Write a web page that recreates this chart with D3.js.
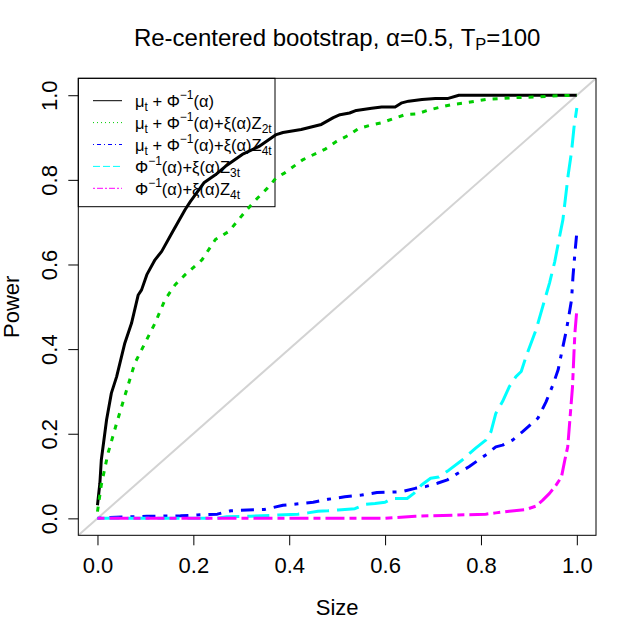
<!DOCTYPE html>
<html>
<head>
<meta charset="utf-8">
<script src="https://cdn.jsdelivr.net/npm/d3@7"></script>
<style>
  body { margin: 0; background: #fff; }
  svg { font-family: "Liberation Sans", Arial, sans-serif; }
</style>
</head>
<body>
<svg id="chart" width="636" height="633"></svg>
<script>
// values (size, power)
const sizeMu = [0, 0.005, 0.008, 0.019, 0.029, 0.04, 0.057, 0.071, 0.085, 0.092, 0.103, 0.12, 0.134, 0.155, 0.183, 0.194, 0.222, 0.246, 0.267, 0.302, 0.337, 0.373, 0.387, 0.425, 0.467, 0.492, 0.506, 0.526, 0.54, 0.572, 0.593, 0.621, 0.635, 0.649, 0.677, 0.705, 0.73, 0.754, 1.0]
const powerMu = [0.031, 0.083, 0.138, 0.233, 0.296, 0.335, 0.414, 0.461, 0.528, 0.54, 0.576, 0.611, 0.631, 0.674, 0.73, 0.749, 0.793, 0.812, 0.832, 0.86, 0.879, 0.907, 0.912, 0.919, 0.931, 0.947, 0.954, 0.958, 0.964, 0.969, 0.972, 0.972, 0.982, 0.986, 0.99, 0.992, 0.992, 1.0, 1.0]

const sizeMuZ2 = [0, 0.008, 0.022, 0.04, 0.061, 0.078, 0.099, 0.12, 0.141, 0.162, 0.183, 0.218, 0.246, 0.274, 0.309, 0.334, 0.355, 0.373, 0.39, 0.429, 0.474, 0.499, 0.523, 0.544, 0.569, 0.593, 0.618, 0.642, 0.667, 0.691, 0.716, 0.74, 0.768, 0.81, 0.866, 0.915, 0.964, 1.0]
const powerMuZ2 = [0.016, 0.079, 0.154, 0.225, 0.304, 0.367, 0.414, 0.461, 0.517, 0.552, 0.576, 0.611, 0.659, 0.678, 0.726, 0.757, 0.781, 0.805, 0.816, 0.848, 0.872, 0.891, 0.905, 0.921, 0.929, 0.935, 0.945, 0.954, 0.956, 0.965, 0.972, 0.978, 0.982, 0.99, 0.994, 0.996, 0.999, 1.0]

const sizeMuZ4 = [0, 0.026, 0.103, 0.173, 0.208, 0.25, 0.278, 0.313, 0.348, 0.387, 0.415, 0.45, 0.481, 0.516, 0.551, 0.583, 0.635, 0.663, 0.684, 0.709, 0.73, 0.751, 0.775, 0.81, 0.831, 0.845, 0.866, 0.887, 0.919, 0.936, 0.95, 0.961, 0.968, 0.977, 0.982, 0.989, 0.992, 0.996, 1.0]
const powerMuZ4 = [0, 0.002, 0.005, 0.006, 0.008, 0.01, 0.018, 0.02, 0.021, 0.031, 0.034, 0.038, 0.045, 0.051, 0.055, 0.061, 0.063, 0.071, 0.075, 0.083, 0.091, 0.106, 0.122, 0.15, 0.169, 0.173, 0.185, 0.205, 0.237, 0.276, 0.315, 0.351, 0.39, 0.438, 0.469, 0.517, 0.572, 0.627, 0.676]

const sizeZ3 = [0, 0.25, 0.27, 0.32, 0.376, 0.418, 0.439, 0.46, 0.481, 0.502, 0.537, 0.558, 0.579, 0.6, 0.614, 0.646, 0.66, 0.676, 0.695, 0.712, 0.733, 0.761, 0.789, 0.81, 0.821, 0.831, 0.845, 0.859, 0.873, 0.884, 0.894, 0.915, 0.929, 0.943, 0.954, 0.964, 0.971, 0.982, 0.989, 0.994, 1.0]
const powerZ3 = [0, 0, 0.004, 0.005, 0.008, 0.01, 0.013, 0.017, 0.018, 0.02, 0.023, 0.033, 0.035, 0.038, 0.047, 0.047, 0.059, 0.079, 0.095, 0.098, 0.114, 0.138, 0.166, 0.185, 0.205, 0.248, 0.276, 0.311, 0.335, 0.347, 0.382, 0.446, 0.501, 0.556, 0.607, 0.666, 0.706, 0.812, 0.867, 0.923, 0.97]

const sizeZ4 = [0, 0.6, 0.663, 0.81, 0.831, 0.859, 0.894, 0.915, 0.929, 0.943, 0.957, 0.968, 0.975, 0.981, 0.986, 0.991, 0.994, 0.996, 1.0]
const powerZ4 = [0, 0, 0.005, 0.01, 0.013, 0.017, 0.021, 0.029, 0.043, 0.059, 0.079, 0.098, 0.138, 0.169, 0.24, 0.311, 0.39, 0.438, 0.493]

const tickValues = [0, 0.2, 0.4, 0.6, 0.8, 1.0]

// legend labels as [text, 'sub'|'sup'|''] pieces
const legendLabels = [
  [['μ', ''], ['t', 'sub'], [' + Φ', ''], ['−1', 'sup'], ['(α)', '']],
  [['μ', ''], ['t', 'sub'], [' + Φ', ''], ['−1', 'sup'], ['(α)+ξ(α)Z', ''], ['2t', 'sub']],
  [['μ', ''], ['t', 'sub'], [' + Φ', ''], ['−1', 'sup'], ['(α)+ξ(α)Z', ''], ['4t', 'sub']],
  [['Φ', ''], ['−1', 'sup'], ['(α)+ξ(α)Z', ''], ['3t', 'sub']],
  [['Φ', ''], ['−1', 'sup'], ['(α)+ξ(α)Z', ''], ['4t', 'sub']],
]

const series = [
  {size: sizeMu, power: powerMu, color: '#000000', dash: null, legendDash: null},
  {size: sizeMuZ2, power: powerMuZ2, color: '#00cd00', dash: '5,7', legendDash: '1,3'},
  {size: sizeMuZ4, power: powerMuZ4, color: '#0000ff', dash: '4,8,13,8', legendDash: '1,3,4,3'},
  {size: sizeZ3, power: powerZ3, color: '#00ffff', dash: '22,8', legendDash: '7,3'},
  {size: sizeZ4, power: powerZ4, color: '#ff00ff', dash: '7,5,19,5', legendDash: '2,2,6,2'},
]

const svg = d3.select('#chart')
const box = {left: 78.3, right: 596, top: 78.3, bottom: 535.3}

const x = d3.scaleLinear().domain([-0.04, 1.04]).range([box.left, box.right])
const y = d3.scaleLinear().domain([-0.04, 1.04]).range([box.bottom, box.top])

svg.append('clipPath').attr('id', 'plot-clip')
  .append('rect')
  .attr('x', box.left).attr('y', box.top)
  .attr('width', box.right - box.left).attr('height', box.bottom - box.top)

// title
const title = svg.append('text')
  .attr('x', (box.left + box.right) / 2)
  .attr('y', 45.5)
  .attr('text-anchor', 'middle')
  .style('font-size', '24px')
title.append('tspan').text('Re-centered bootstrap, α=0.5, T')
title.append('tspan').attr('dy', 4.5).style('font-size', '16.5px').text('P')
title.append('tspan').attr('dy', -4.5).text('=100')

// axes
const xAxis = svg.append('g')
  .attr('transform', `translate(0, ${box.bottom})`)
  .call(d3.axisBottom(x).tickValues(tickValues).tickFormat(d3.format('.1f'))
    .tickSize(10).tickPadding(11.7).tickSizeOuter(0))
xAxis.select('.domain').remove()
xAxis.selectAll('text').style('font-size', '22px').attr('fill', '#000')

const yAxis = svg.append('g')
  .attr('transform', `translate(${box.left}, 0)`)
  .call(d3.axisLeft(y).tickValues(tickValues).tickFormat(d3.format('.1f'))
    .tickSize(10).tickSizeOuter(0))
yAxis.select('.domain').remove()
yAxis.selectAll('text')
  .style('font-size', '22px')
  .attr('fill', '#000')
  .attr('x', null).attr('dy', null)
  .attr('text-anchor', 'middle')
  .attr('transform', 'translate(-21.3, 0) rotate(-90)')

svg.selectAll('.tick line').attr('stroke', '#000')

svg.append('text')
  .attr('x', (box.left + box.right) / 2)
  .attr('y', 615)
  .attr('text-anchor', 'middle')
  .style('font-size', '22px')
  .text('Size')

svg.append('text')
  .attr('transform', `translate(18.5, ${(box.top + box.bottom) / 2}) rotate(-90)`)
  .attr('text-anchor', 'middle')
  .style('font-size', '22px')
  .text('Power')

// legend (no fill, curves run over it)
const legend = svg.append('g').attr('class', 'legend')
legend.append('rect')
  .attr('x', box.left).attr('y', box.top)
  .attr('width', 275 - box.left).attr('height', 206.7 - box.top)
  .attr('fill', 'none').attr('stroke', '#000').attr('stroke-width', 1)

const rows = legend.selectAll('g.row')
  .data(series)
  .enter()
  .append('g')
  .attr('class', 'row')
  .attr('transform', (d, i) => `translate(0, ${100.7 + i * 21.9})`)

rows.append('line')
  .attr('x1', 93).attr('x2', 122)
  .attr('stroke', (d) => d.color)
  .attr('stroke-width', 1)
  .attr('stroke-dasharray', (d) => d.legendDash)

rows.append('text')
  .attr('x', 135)
  .attr('y', 6.5)
  .style('font-size', '16.5px')
  .each(function(d, i) {
    const t = d3.select(this)
    let shift = 0
    legendLabels[i].forEach(([txt, kind]) => {
      const target = kind === 'sub' ? 4 : kind === 'sup' ? -8 : 0
      const sp = t.append('tspan').attr('dy', target - shift).text(txt)
      if (kind) sp.style('font-size', '12px')
      shift = target
    })
  })

// diagonal reference line
const plot = svg.append('g').attr('clip-path', 'url(#plot-clip)')
plot.append('line')
  .attr('x1', x(x.domain()[0])).attr('y1', y(y.domain()[0]))
  .attr('x2', x(x.domain()[1])).attr('y2', y(y.domain()[1]))
  .attr('stroke', '#d3d3d3')
  .attr('stroke-width', 2)

const line = d3.line()
  .x((d) => x(d[0]))
  .y((d) => y(d[1]))

plot.selectAll('path.curve')
  .data(series)
  .enter()
  .append('path')
  .attr('class', 'curve')
  .attr('d', (d) => line(d3.zip(d.size, d.power)))
  .attr('fill', 'none')
  .attr('stroke', (d) => d.color)
  .attr('stroke-width', 3)
  .attr('stroke-linecap', 'butt')
  .attr('stroke-linejoin', 'round')
  .attr('stroke-dasharray', (d) => d.dash)

// plot box
svg.append('rect')
  .attr('x', box.left).attr('y', box.top)
  .attr('width', box.right - box.left).attr('height', box.bottom - box.top)
  .attr('fill', 'none').attr('stroke', '#000').attr('stroke-width', 1)
</script>
</body>
</html>
